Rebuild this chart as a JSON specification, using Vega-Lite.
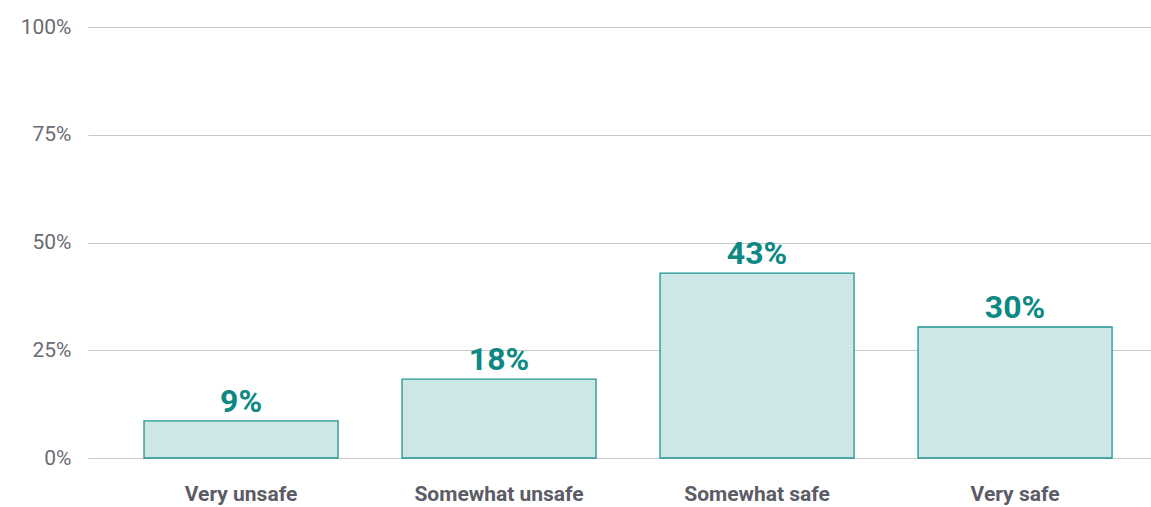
{
  "$schema": "https://vega.github.io/schema/vega-lite/v6.json",
  "width": 1063,
  "height": 431,
  "autosize": {"type": "none"},
  "padding": {"left": 88, "top": 27, "right": 0, "bottom": 49},
  "background": "white",
  "config": {"view": {"stroke": null}, "font": "Roboto"},
  "data": {"values": [
    {"category": "Very unsafe", "share": 0.086},
    {"category": "Somewhat unsafe", "share": 0.183},
    {"category": "Somewhat safe", "share": 0.429},
    {"category": "Very safe", "share": 0.304}
  ]},
  "encoding": {
    "x": {"field": "category", "type": "nominal", "sort": null,
      "scale": {"paddingInner": 0.248, "paddingOuter": 0.184, "align": 0.59},
      "axis": {"title": null, "labelAngle": 0, "ticks": false, "domain": false, "labelFont": "Roboto", "labelFontSize": 21, "labelFontWeight": "bold", "labelColor": "#5c5c66", "labelPadding": 25}},
    "y": {"field": "share", "type": "quantitative",
      "scale": {"domain": [0, 1], "nice": false},
      "axis": {"title": null, "values": [0, 0.25, 0.5, 0.75, 1], "format": ".0%", "ticks": false, "domain": false, "gridColor": "#c8c8c8", "gridWidth": 1, "labelFont": "Roboto", "labelFontSize": 21, "labelColor": "#6b6b70", "labelPadding": 17}},
    "y2": {"datum": 0}
  },
  "layer": [
    {"mark": {"type": "bar", "fill": "#cde6e6", "stroke": "#1f9590", "strokeWidth": 1.3}},
    {"mark": {"type": "text", "baseline": "alphabetic", "dy": -9, "font": "Roboto", "fontSize": 32, "fontWeight": "bold", "color": "#0e8883"},
      "encoding": {"y2": null, "text": {"field": "share", "type": "quantitative", "format": ".0%"}}}
  ]
}
